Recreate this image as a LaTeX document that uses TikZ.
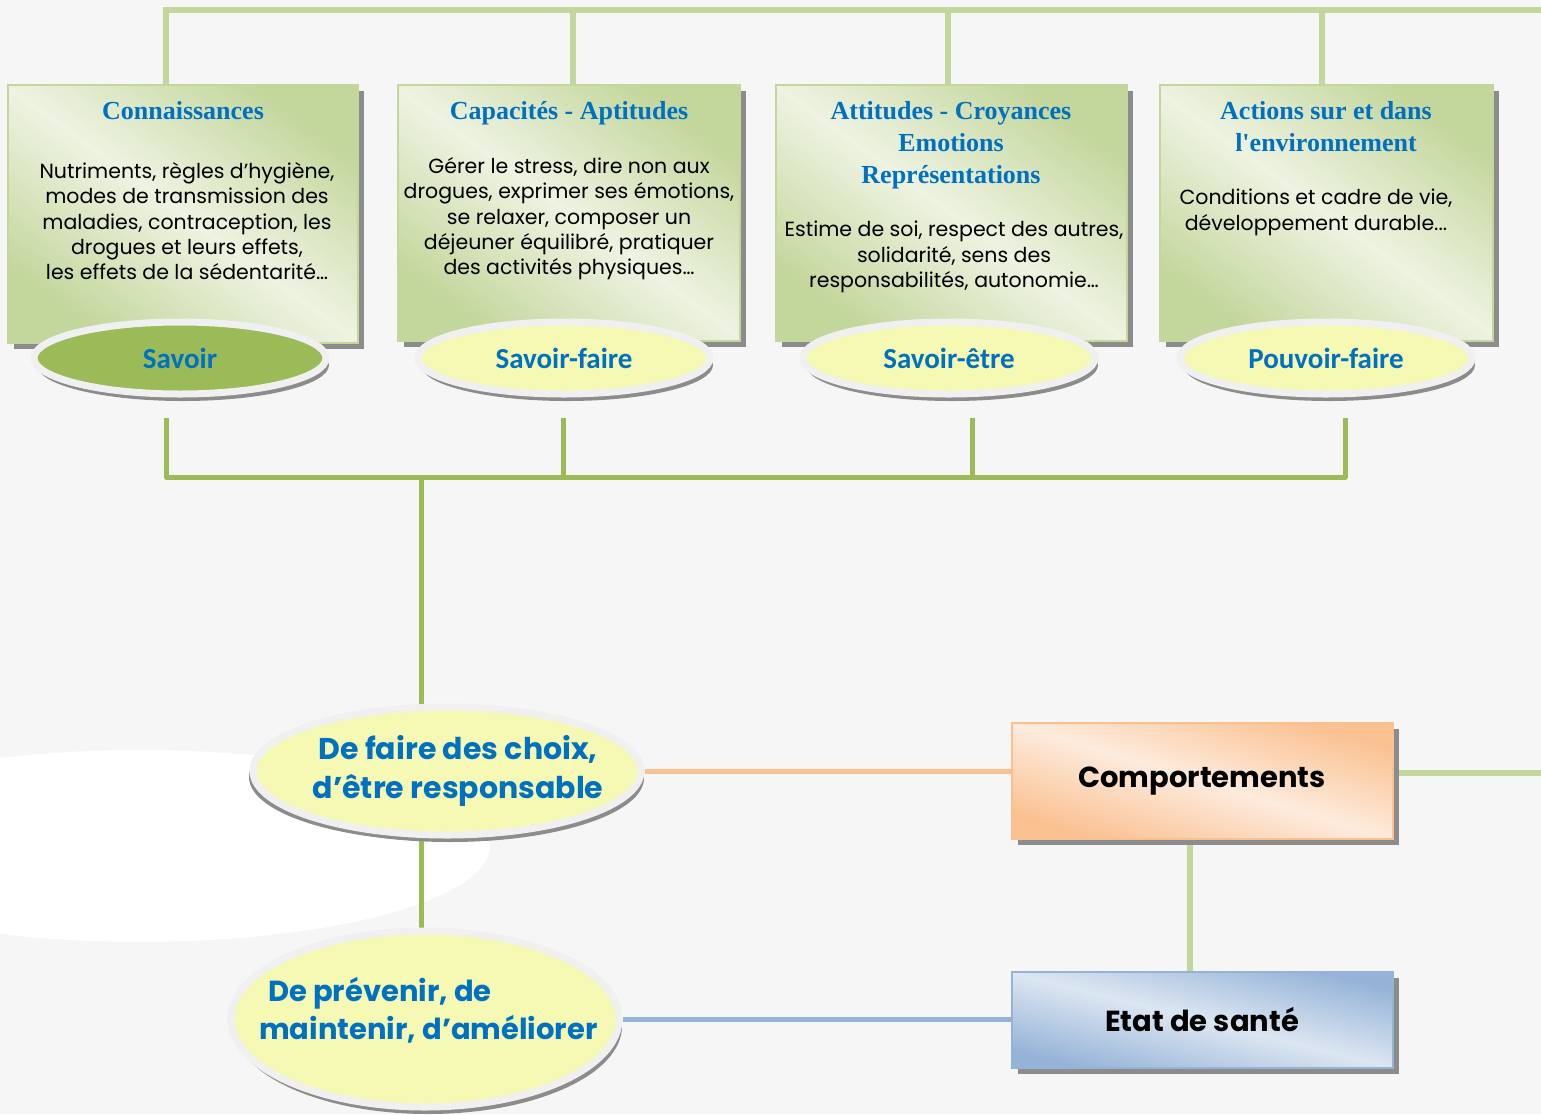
\documentclass[tikz,border=0pt]{standalone}
\usepackage{fontspec}
\usepackage{tikz}
\usetikzlibrary{shapes,shadows,backgrounds,positioning}
\newfontfamily\gothic{Poppins}
\newfontfamily\titlefont{Liberation Serif}
\newfontfamily\calib{Carlito}
\definecolor{linegreen}{HTML}{C3D69B}
\definecolor{darkgreen}{HTML}{9BBB59}
\definecolor{lightgreen}{HTML}{EEF3E2}
\definecolor{titleblue}{HTML}{0070C0}
\definecolor{ovalyellow}{HTML}{F5F9B4}
\definecolor{orangeline}{HTML}{FAC090}
\definecolor{orangelight}{HTML}{FDEBDD}
\definecolor{blueline}{HTML}{95B3D7}
\definecolor{bluelight}{HTML}{DCE6F2}
\definecolor{bggray}{HTML}{F6F6F6}

\begin{document}
\begin{tikzpicture}[x=1pt,y=-1pt,
    bus/.style={line width=6pt,color=linegreen},
    dbus/.style={line width=5pt,color=darkgreen,line join=round},
    oline/.style={line width=5pt,color=orangeline},
    bline/.style={line width=5pt,color=blueline},
    green box/.style={rectangle,draw=linegreen,line width=2pt,
      top color=linegreen,bottom color=linegreen,middle color=lightgreen,shading angle=-36,
      drop shadow={shadow xshift=6pt,shadow yshift=-6pt,fill=black!45,opacity=1}},
    oval/.style={ellipse,draw=gray!12,line width=7pt,fill=ovalyellow,inner sep=0pt,
      minimum width=292,minimum height=72,text=titleblue,
      font=\calib\bfseries\fontsize{29}{29}\selectfont,
      drop shadow={shadow xshift=3pt,shadow yshift=-7pt,fill=black!45,opacity=1}},
    big oval/.style={oval,minimum width=388},
    big text/.style={font=\gothic\bfseries\fontsize{30}{39}\selectfont,text=titleblue,inner sep=0pt},
    title/.style={font=\titlefont\bfseries\fontsize{26}{32}\selectfont,text=titleblue,align=center,inner sep=0pt,anchor=north},
    body/.style={font=\gothic\fontsize{20.5}{25.4}\selectfont,align=center,inner sep=0pt,anchor=north},
    end box/.style={rectangle,line width=2pt,minimum width=381,font=\gothic\bfseries\fontsize{29}{29}\selectfont,
      drop shadow={shadow xshift=6pt,shadow yshift=-6pt,fill=black!45,opacity=1}}]

  \useasboundingbox (0,0) rectangle (1541,1114);

  % the four boxes
  \node[green box,minimum width=350,minimum height=258] (k1) at (183,214) {};
  \node[green box,minimum width=342,minimum height=256] (k2) at (569,213) {};
  \node[green box,minimum width=351,minimum height=256] (k3) at (951,213) {};
  \node[green box,minimum width=333,minimum height=256] (k4) at (1326,213) {};

  \node[title] (t1) at (183,101) {Connaissances};
  \node[title] (t2) at (569,101) {Capacités - Aptitudes};
  \node[title] (t3) at (951,101) {Attitudes - Croyances\\Emotions\\Représentations};
  \node[title] (t4) at (1326,101) {Actions sur et dans\\l'environnement};

  \node[body] (d1) at (187,162) {Nutriments, règles d’hygiène,\\modes de transmission des\\maladies, contraception, les\\drogues et leurs effets,\\les effets de la sédentarité…};
  \node[body] (d2) at (569,157) {Gérer le stress, dire non aux\\drogues, exprimer ses émotions,\\se relaxer, composer un\\déjeuner équilibré, pratiquer\\des activités physiques…};
  \node[body] (d3) at (954,221) {Estime de soi, respect des autres,\\solidarité, sens des\\responsabilités, autonomie…};
  \node[body] (d4) at (1316,189) {Conditions et cadre de vie,\\développement durable...};

  % the four ovals
  \node[oval,fill=darkgreen] (sav) at (180,358) {Savoir};
  \node[oval] (sfaire) at (564,358) {Savoir-faire};
  \node[oval] (setre) at (949,358) {Savoir-être};
  \node[oval] (pouv) at (1326,358) {Pouvoir-faire};

  % lower part
  \node[big oval,minimum height=128,drop shadow={shadow xshift=-4pt,shadow yshift=-6pt,fill=black!45,opacity=1}] (choix) at (447,771) {};
  \node[big text,align=center] (choixtxt) at (458,771) {De faire des choix,\\d’être responsable};
  \node[big oval,minimum height=176] (prev) at (425,1019) {};
  \node[big text,align=left,anchor=west,font=\gothic\bfseries\fontsize{29}{38}\selectfont] (prevtxt) at (259,1010) {\hspace*{9pt}De prévenir, de\\maintenir, d’améliorer};

  \node[end box,draw=orangeline,minimum height=116,top color=orangeline,bottom color=orangeline,middle color=orangelight,shading angle=-17] (comp) at (1202,781) {Comportements};
  \node[end box,draw=blueline,minimum height=96,top color=blueline,bottom color=blueline,middle color=bluelight,shading angle=-14] (etat) at (1202,1020) {Etat de santé};

  \coordinate (tl) at (166,10);
  \coordinate (tr) at (1541,10);
  \coordinate (b1) at (166,477);
  \coordinate (b2) at (563,477);
  \coordinate (b3) at (972,477);
  \coordinate (b4) at (1345,477);
  \coordinate (bc) at (421,477);
  \coordinate (edge) at (1541,773);

  \begin{scope}[on background layer]
    \fill[bggray] (0,0) rectangle (1541,1114);
    \fill[white] (140,846) ellipse [x radius=350,y radius=96];
    \draw[bus] (k1.north -| tl) -- (tl) -- (tr);
    \draw[bus] ([xshift=4pt]k2.north) -- ([xshift=4pt]k2.north |- tl);
    \draw[bus] ([xshift=-3pt]k3.north) -- ([xshift=-3pt]k3.north |- tl);
    \draw[bus] ([xshift=-4pt]k4.north) -- ([xshift=-4pt]k4.north |- tl);
    \draw[dbus] ([yshift=-20pt]sav.south -| b1) -- (b1) -- (b4) -- ([yshift=-20pt]pouv.south -| b4);
    \draw[dbus] ([yshift=-20pt]sfaire.south -| b2) -- (b2);
    \draw[dbus] ([yshift=-20pt]setre.south -| b3) -- (b3);
    \draw[dbus] (bc) -- (bc |- choix.north);
    \draw[dbus] (choix -| bc) -- (prev -| bc);
    \draw[oline] (choix.east) -- (choix.east -| comp.west);
    \draw[bus] (comp.east |- edge) -- (edge);
    \draw[bus] ([xshift=-12pt]comp.south) -- ([xshift=-12pt]etat.north);
    \draw[bline] (prev) -- (prev -| etat.west);
  \end{scope}
\end{tikzpicture}
\end{document}
